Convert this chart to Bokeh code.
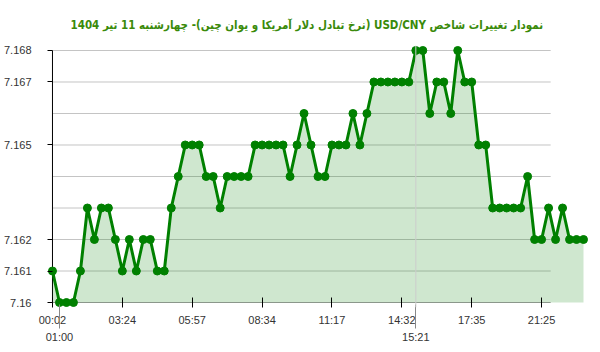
from bokeh.plotting import figure
from bokeh.models import FixedTicker, LinearAxis, CustomJSTickFormatter, Range1d, Span
from bokeh.embed import file_html
from bokeh.resources import INLINE

# ---- data ----
title_text = "نمودار تغییرات شاخص USD/CNY (نرخ تبادل دلار آمریکا و یوان چین)- چهارشنبه  11 تیر 1404"
values = [
    7.161, 7.160, 7.160, 7.160, 7.161, 7.163, 7.162, 7.163, 7.163, 7.162,
    7.161, 7.162, 7.161, 7.162, 7.162, 7.161, 7.161, 7.163, 7.164, 7.165,
    7.165, 7.165, 7.164, 7.164, 7.163, 7.164, 7.164, 7.164, 7.164, 7.165,
    7.165, 7.165, 7.165, 7.165, 7.164, 7.165, 7.166, 7.165, 7.164, 7.164,
    7.165, 7.165, 7.165, 7.166, 7.165, 7.166, 7.167, 7.167, 7.167, 7.167,
    7.167, 7.167, 7.168, 7.168, 7.166, 7.167, 7.167, 7.166, 7.168, 7.167,
    7.167, 7.165, 7.165, 7.163, 7.163, 7.163, 7.163, 7.163, 7.164, 7.162,
    7.162, 7.163, 7.162, 7.163, 7.162, 7.162, 7.162,
]
x_tick_labels = ["00:02", "03:24", "05:57", "08:34", "11:17", "14:32", "17:35", "21:25"]
x_tick_step = 10
second_labels = ["01:00", "15:21"]
second_label_idx = [1, 52]
y_tick_values = [7.16, 7.161, 7.162, 7.165, 7.167, 7.168]
y_grid_values = [7.161, 7.162, 7.163, 7.164, 7.165, 7.166, 7.167, 7.168]
y_base = 7.16

# ---- style constants ----
GREEN = "#008000"
GRID_END = 71.3
FONT = "Liberation Sans"

xs = list(range(len(values)))

p = figure(
    width=600, height=352, output_backend="svg", toolbar_location=None,
    x_range=Range1d(-0.713, 77.0), y_range=Range1d(7.1598413, 7.1681587),
    min_border_left=45, min_border_right=10, min_border_top=45, min_border_bottom=45,
)
p.xgrid.visible = False
p.ygrid.visible = False
p.outline_line_color = None
p.background_fill_color = "white"
p.border_fill_color = "white"

# grid lines
p.segment(x0=0, y0=y_grid_values, x1=GRID_END, y1=y_grid_values, line_color="#c4c4c4", line_width=1)
p.segment(x0=0, y0=y_base, x1=GRID_END, y1=y_base, line_color="#9a9a9a", line_width=1)
p.add_layout(Span(location=second_label_idx[1], dimension="height", line_color="#cccccc", line_width=1))
p.segment(x0=0, y0=y_base, x1=0, y1=max(y_grid_values), line_color="black", line_width=1)

# data
p.varea(x=xs, y1=[y_base] * len(xs), y2=values, fill_color=GREEN, fill_alpha=0.19)
p.line(xs, values, line_color=GREEN, line_width=3)
p.scatter(xs, values, size=8, color=GREEN)

# x axis
xa = p.xaxis[0]
xa.ticker = FixedTicker(ticks=[i * x_tick_step for i in range(len(x_tick_labels))])
xa.major_label_overrides = {i * x_tick_step: lab for i, lab in enumerate(x_tick_labels)}
xa.axis_line_color = None
xa.major_tick_in = 10
xa.major_tick_out = 0
xa.major_tick_line_color = "black"
xa.minor_tick_line_color = None
xa.major_label_standoff = 6
xa.major_label_text_font = FONT
xa.major_label_text_font_size = "11px"
xa.major_label_text_color = "#333333"

ax2 = LinearAxis(
    ticker=FixedTicker(ticks=second_label_idx),
    major_label_overrides=dict(zip(second_label_idx, second_labels)),
    axis_line_color=None, major_tick_in=24, major_tick_out=0,
    major_tick_line_color="#888888", minor_tick_line_color=None,
    major_label_standoff=2, major_label_text_font=FONT,
    major_label_text_font_size="11px", major_label_text_color="#333333",
)
p.add_layout(ax2, "below")

# y axis
ya = p.yaxis[0]
ya.ticker = FixedTicker(ticks=y_tick_values)
ya.formatter = CustomJSTickFormatter(code="return (Math.round(tick*1000)/1000).toString();")
ya.axis_line_color = None
ya.major_tick_in = 5
ya.major_tick_out = 0
ya.major_tick_line_color = "black"
ya.minor_tick_line_color = None
ya.major_label_standoff = 16
ya.major_label_text_font = FONT
ya.major_label_text_font_size = "11px"
ya.major_label_text_color = "#333333"
ya.major_label_text_baseline = "alphabetic"

# title (wrapped in a right-to-left embedding)
p.title.text = "\u202b" + title_text + "\u202c"
p.title.align = "left"
p.title.offset = 23
p.title.standoff = 23
p.title.vertical_align = "top"
p.title.text_font = "DejaVu Sans Condensed"
p.title.text_font_size = "11.5px"
p.title.text_font_style = "bold"
p.title.text_color = "#3a8a0a"

open("out.html", "w").write(file_html(p, INLINE))
